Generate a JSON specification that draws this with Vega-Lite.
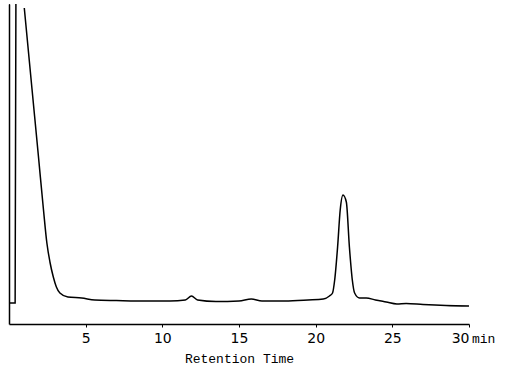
{
  "$schema": "https://vega.github.io/schema/vega-lite/v6.json",
  "autosize": {"type": "none"},
  "padding": {"left": 9, "top": 4, "right": 42, "bottom": 54},
  "width": 460,
  "height": 320,
  "background": "white",
  "config": {"view": {"stroke": null}},
  "layer": [
    {
      "data": {"values": [
        {"seg": 1, "t": 0.0, "y": 320}, {"seg": 1, "t": 0.0, "y": 21}, {"seg": 1, "t": 0.4, "y": 21}, {"seg": 1, "t": 0.45, "y": 320},
        {"seg": 2, "t": 0.997, "y": 316}, {"seg": 2, "t": 1.5, "y": 235}, {"seg": 2, "t": 1.93, "y": 166}, {"seg": 2, "t": 2.25, "y": 114},
        {"seg": 2, "t": 2.47, "y": 81}, {"seg": 2, "t": 2.67, "y": 62}, {"seg": 2, "t": 2.89, "y": 47}, {"seg": 2, "t": 3.09, "y": 37},
        {"seg": 2, "t": 3.32, "y": 31}, {"seg": 2, "t": 3.84, "y": 27}, {"seg": 2, "t": 4.74, "y": 26}, {"seg": 2, "t": 5.6, "y": 24},
        {"seg": 2, "t": 7, "y": 23.5}, {"seg": 2, "t": 9, "y": 23}, {"seg": 2, "t": 10.5, "y": 23}, {"seg": 2, "t": 11.5, "y": 24}, {"seg": 2, "t": 11.9, "y": 28},
        {"seg": 2, "t": 12.3, "y": 24}, {"seg": 2, "t": 13.5, "y": 22.5}, {"seg": 2, "t": 15, "y": 23}, {"seg": 2, "t": 15.8, "y": 25},
        {"seg": 2, "t": 16.5, "y": 23}, {"seg": 2, "t": 18, "y": 23}, {"seg": 2, "t": 19.5, "y": 24}, {"seg": 2, "t": 20.5, "y": 25},
        {"seg": 2, "t": 20.9, "y": 28}, {"seg": 2, "t": 21.1, "y": 31}, {"seg": 2, "t": 21.24, "y": 44}, {"seg": 2, "t": 21.43, "y": 77},
        {"seg": 2, "t": 21.6, "y": 114}, {"seg": 2, "t": 21.78, "y": 129}, {"seg": 2, "t": 22.0, "y": 122}, {"seg": 2, "t": 22.2, "y": 77},
        {"seg": 2, "t": 22.39, "y": 44}, {"seg": 2, "t": 22.54, "y": 31}, {"seg": 2, "t": 22.86, "y": 26}, {"seg": 2, "t": 23.3, "y": 26},
        {"seg": 2, "t": 23.9, "y": 24}, {"seg": 2, "t": 24.6, "y": 22}, {"seg": 2, "t": 25.3, "y": 20}, {"seg": 2, "t": 25.9, "y": 20.5},
        {"seg": 2, "t": 27, "y": 19.5}, {"seg": 2, "t": 28.5, "y": 18.5}, {"seg": 2, "t": 30, "y": 18}
      ]},
      "mark": {"type": "line", "color": "black", "strokeWidth": 1.5, "interpolate": "monotone", "clip": true},
      "encoding": {
        "x": {"field": "t", "type": "quantitative", "scale": {"domain": [0, 30], "nice": false, "zero": false},
          "axis": {"values": [5, 10, 15, 20, 25, 30], "title": "Retention Time", "titleFont": "Liberation Mono", "titleFontWeight": "normal", "titleFontSize": 13, "titleColor": "black", "titlePadding": 7,
            "labelFont": "DejaVu Sans", "labelFontSize": 14, "labelColor": "black", "labelPadding": 4, "tickSize": 3, "tickColor": "black", "domainColor": "black", "domainWidth": 1.5, "grid": false}},
        "y": {"field": "y", "type": "quantitative", "scale": {"domain": [0, 320], "nice": false},
          "axis": {"title": null, "labels": false, "ticks": false, "grid": false, "domainColor": "black", "domainWidth": 1.5}},
        "detail": {"field": "seg", "type": "nominal"}
      }
    },
    {
      "data": {"values": [{"t": 30, "y": 0, "label": "min"}]},
      "mark": {"type": "text", "align": "left", "baseline": "top", "dx": 3, "dy": 9, "font": "Liberation Mono", "fontSize": 13, "color": "black"},
      "encoding": {
        "x": {"field": "t", "type": "quantitative"},
        "y": {"field": "y", "type": "quantitative"},
        "text": {"field": "label"}
      }
    }
  ]
}
